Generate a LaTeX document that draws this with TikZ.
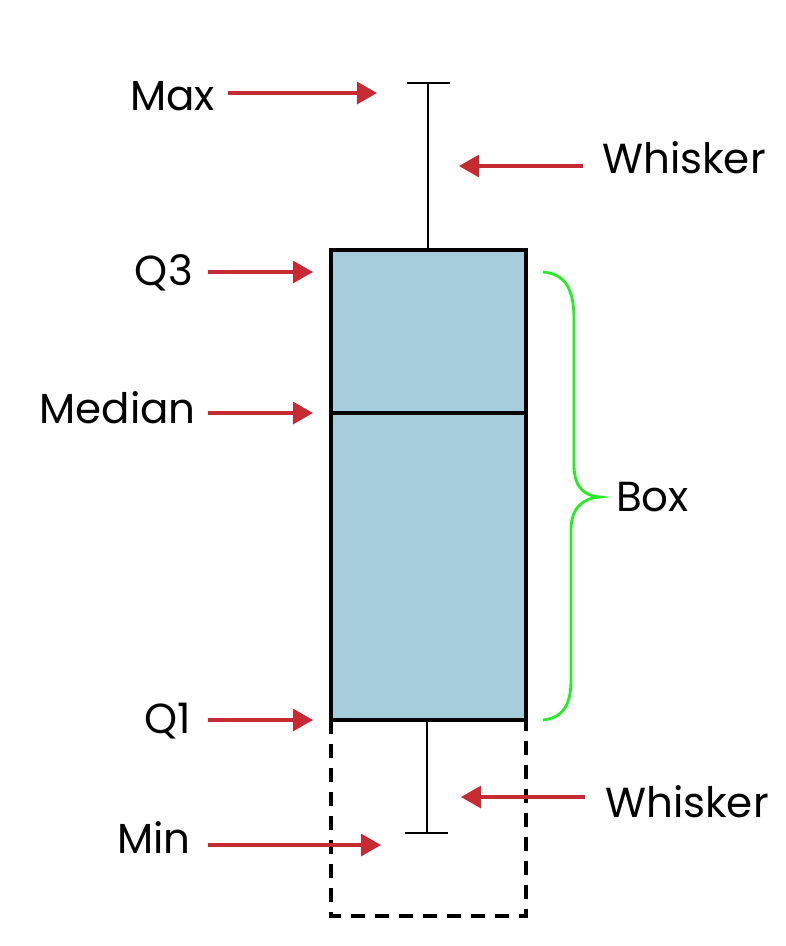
\documentclass[tikz,border=0pt]{standalone}
\usepackage{fontspec}
\setmainfont{Poppins}
\usetikzlibrary{arrows.meta}
\definecolor{arrred}{HTML}{C62A32}
\definecolor{boxblue}{HTML}{A5CDDA}
\definecolor{bracegreen}{HTML}{22EE22}
\tikzset{
  lbl/.style={inner sep=0pt, font=\fontsize{42}{46}\selectfont},
  pointer/.style={draw=arrred, line width=3.2pt, -{Triangle[length=20pt,width=22pt]}},
  boxshape/.style={draw=black, fill=boxblue, line width=3.5pt, outer sep=0pt},
  whisk/.style={draw=black, line width=2.8pt},
  dashbox/.style={draw=black, line width=3.2pt, dash pattern=on 14pt off 10pt},
}
\begin{document}
\begin{tikzpicture}[x=1pt,y=-1pt]
\useasboundingbox (0,0) rectangle (786,946);
% dashed lower box
\draw[dashbox] (331,720) -- (331,916) -- (526,916) -- (526,720);
% main box
\node[boxshape, minimum width=195pt, minimum height=470pt, inner sep=0pt, anchor=north west] (box) at (331,250) {};
\coordinate (medL) at (331,413);
\coordinate (medR) at (526,413);
\draw[line width=3.2pt] (medL) -- (medR);
% whiskers
\coordinate (maxpt) at (428,83);
\coordinate (minpt) at (427,833);
\draw[whisk] (maxpt) -- (box.north -| maxpt);
\draw[whisk] (407,83) -- (450,83);
\draw[whisk] (box.south -| minpt) -- (minpt);
\draw[whisk] (405,833) -- (448,833);
% labels
\node[lbl, anchor=base east] (max) at (215,110) {Max};
\node[lbl, anchor=base east] (q3) at (193,285) {Q3};
\node[lbl, anchor=base east] (median) at (196,423) {Median};
\node[lbl, anchor=base east] (q1) at (191,733) {Q1};
\node[lbl, anchor=base east] (min) at (191,853) {Min};
\node[lbl, anchor=base west] (whtop) at (602,173) {Whisker};
\node[lbl, anchor=base west] (whbot) at (605,817) {Whisker};
\node[lbl, anchor=base west] (boxlbl) at (616,511) {Box};
% arrow endpoints
\coordinate (maxA) at (228,93);  \coordinate (maxB) at (377,93);
\coordinate (q3A) at (208,272);  \coordinate (q3B) at (313,272);
\coordinate (medA) at (208,413); \coordinate (medB) at (313,413);
\coordinate (q1A) at (208,720);  \coordinate (q1B) at (313,720);
\coordinate (minA) at (208,845); \coordinate (minB) at (381,845);
\coordinate (wtA) at (583,166);  \coordinate (wtB) at (459,166);
\coordinate (wbA) at (585,797);  \coordinate (wbB) at (461,797);
\draw[pointer] (maxA) -- (maxB);
\draw[pointer] (q3A) -- (q3B);
\draw[pointer] (medA) -- (medB);
\draw[pointer] (q1A) -- (q1B);
\draw[pointer] (minA) -- (minB);
\draw[pointer] (wtA) -- (wtB);
\draw[pointer] (wbA) -- (wbB);
% brace
\draw[bracegreen, line width=2.8pt]
  (543,272) .. controls (565,274) and (574,288) .. (574,320)
  -- (574,465) .. controls (574,488) and (585,496) .. (600,497)
  .. controls (585,498) and (571,506) .. (571,530)
  -- (571,680) .. controls (571,706) and (562,718) .. (543,720);
\end{tikzpicture}
\end{document}
